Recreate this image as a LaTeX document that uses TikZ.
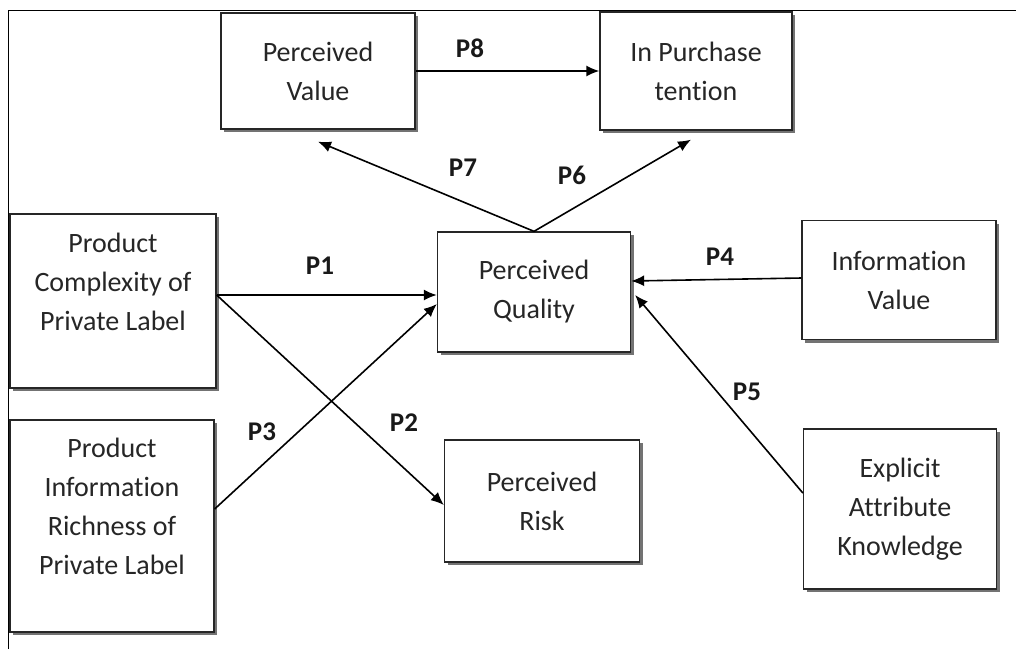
\documentclass[tikz,border=0pt]{standalone}
\usepackage{fontspec}
\setmainfont{Carlito}[Ligatures=NoCommon]
\usetikzlibrary{arrows.meta,shadows,calc}

\tikzset{
  box/.style={draw=black!85, line width=1.3pt, fill=white, align=center, inner sep=0pt,
    drop shadow={shadow xshift=3pt,shadow yshift=-3pt,fill=black!55,opacity=1},
    text=black!85, font=\fontsize{28}{39}\selectfont},
  plab/.style={text=black!90, font=\fontsize{27}{30}\selectfont\bfseries},
  arr/.style={line width=1.6pt, -{Latex[length=13pt,width=11pt]}}
}

\begin{document}
\begin{tikzpicture}[x=1pt,y=-1pt]
\useasboundingbox (0,0) rectangle (1016,649);
% cornice: solo lato sinistro e lato alto
\draw[line width=0.9pt] (8,649) -- (8,10) -- (1016,10);
% riga in alto
\node[box, minimum width=194, minimum height=116] (pv) at (318,71) {Perceived\\Value};
\node[box, minimum width=192, minimum height=118] (ip) at (696,71) {In Purchase\\tention};
% colonna di sinistra
\node[box, minimum width=206, minimum height=174] (pc) at (113,301) {Product\\Complexity of\\Private Label\\ \mbox{}};
\node[box, minimum width=204, minimum height=212] (pir) at (112,526) {Product\\Information\\Richness of\\Private Label\\ \mbox{}};
% centro
\node[box, minimum width=193, minimum height=120] (pq) at (534,292) {Perceived\\Quality};
\node[box, minimum width=195, minimum height=122] (pr) at (542,501) {Perceived\\Risk};
% colonna di destra
\node[box, minimum width=194, minimum height=119] (iv) at (899,280) {Information\\Value};
\node[box, minimum width=193, minimum height=160] (eak) at (900,509) {Explicit\\Attribute\\Knowledge};
% frecce
\draw[arr] (pv.east) -- (ip.west);
\draw[arr] (pq.north) -- ($(pv.south)+(0,12)$);
\draw[arr] (pq.north) -- ($(ip.south)+(-5,9)$);
\draw[arr] ($(pc.east)+(0,-6)$) -- ($(pq.west)+(0,3)$);
\draw[arr] ($(pc.east)+(0,-6)$) -- ($(pr.west)+(0,4)$);
\draw[arr] ($(pir.east)+(0,-17)$) -- ($(pq.west)+(0,12)$);
\draw[arr] ($(iv.west)+(0,-2)$) -- ($(pq.east)+(0,-11)$);
\draw[arr] ($(eak.west)+(0,-16)$) -- ($(pq.east)+(4,3)$);
% etichette
\node[plab] (l1) at (320,266) {P1};
\node[plab] (l2) at (404,423) {P2};
\node[plab] (l3) at (262,432) {P3};
\node[plab] (l4) at (720,257) {P4};
\node[plab] (l5) at (747,392) {P5};
\node[plab] (l6) at (572,175) {P6};
\node[plab] (l7) at (463,168) {P7};
\node[plab] (l8) at (470,48) {P8};
\end{tikzpicture}
\end{document}
